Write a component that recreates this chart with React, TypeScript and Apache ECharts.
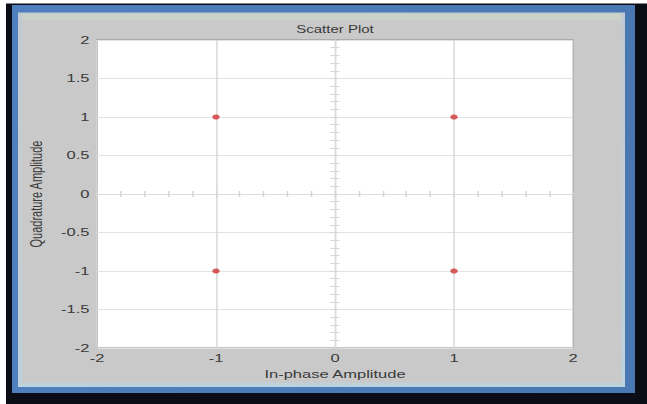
import React, { useEffect, useRef } from "react";
import * as echarts from "echarts";

// QPSK constellation points
const inPhase = [-1, 1, -1, 1];
const quadrature = [1, 1, -1, -1];

const titleText = "Scatter Plot";
const xName = "In-phase Amplitude";
const yName = "Quadrature Amplitude";

const OUT_W = 647;
const OUT_H = 404;
const CHART_W = 431;
const SX = OUT_W / CHART_W; // the figure is drawn narrow and stretched horizontally

const FONT = "Liberation Sans, Arial, sans-serif";
const TEXT = "#3a3a3a";

const u = (px: number) => px / SX;

export default function App() {
  const ref = useRef<HTMLDivElement>(null);

  useEffect(() => {
    if (!ref.current) return;
    const chart = echarts.init(ref.current, undefined, { renderer: "svg" });

    const centerAxis = (inside: boolean, interval: number, showLine: boolean) => ({
      type: "value" as const,
      min: -2,
      max: 2,
      interval,
      axisLine: {
        show: showLine,
        onZero: true,
        onZeroAxisIndex: 0,
        lineStyle: { color: "#dcdcdc", width: 1 },
      },
      axisTick: {
        show: true,
        inside,
        length: 3,
        lineStyle: { color: "#d6d6d6", width: 1 },
      },
      axisLabel: { show: false },
      splitLine: { show: false },
    });

    chart.setOption({
      animation: false,
      backgroundColor: "#ffffff",
      graphic: [
        { type: "rect", z: -10, shape: { x: u(6), y: 3.5, width: CHART_W, height: OUT_H }, style: { fill: "#0b0d16" } },
        {
          type: "rect",
          z: -9,
          shape: { x: u(12), y: 5, width: u(635) - u(12), height: 393 - 5 },
          style: {
            fill: new echarts.graphic.LinearGradient(0, 0, 1, 0, [
              { offset: 0, color: "#4f7fbe" },
              { offset: 1, color: "#4a78b2" },
            ]),
          },
        },
        {
          type: "rect",
          z: -8,
          shape: { x: u(18), y: 12.5, width: u(625) - u(18), height: 387 - 12.5 },
          style: {
            fill: new echarts.graphic.LinearGradient(0, 0, 0, 1, [
              { offset: 0, color: "#bfcad3" },
              { offset: 0.5, color: "#c8cdd0" },
              { offset: 1, color: "#bcd2dc" },
            ]),
          },
        },
        {
          type: "rect",
          z: -7,
          shape: { x: u(22), y: 20, width: u(621) - u(22), height: 383 - 20 },
          style: { fill: "#c9c9c9" },
        },
        {
          type: "rect",
          z: -7,
          shape: { x: u(22), y: 14, width: u(621) - u(22), height: 6 },
          style: { fill: "#ccd2c8" },
        },
        {
          type: "text",
          z: 5,
          x: u(335),
          y: 29,
          style: {
            text: titleText,
            fill: TEXT,
            font: `10px ${FONT}`,
            textAlign: "center",
            textVerticalAlign: "middle",
          },
        },
      ],
      grid: {
        left: u(97),
        top: 40,
        width: u(573) - u(97),
        height: 308,
        show: true,
        backgroundColor: "#ffffff",
        borderColor: "#8c8c8c",
        borderWidth: 1,
      },
      xAxis: [
        {
          type: "value",
          min: -2,
          max: 2,
          interval: 1,
          position: "bottom",
          axisLine: { show: false, onZero: false },
          axisTick: { show: false },
          axisLabel: { color: TEXT, fontSize: 11, fontFamily: FONT, margin: 5 },
          splitLine: { show: true, lineStyle: { color: "#d8d8d8", width: 1 } },
          name: xName,
          nameLocation: "middle",
          nameGap: 19,
          nameTextStyle: { color: TEXT, fontSize: 11, fontFamily: FONT },
        },
        { ...centerAxis(true, 0.2, true), position: "bottom" },
        { ...centerAxis(false, 0.2, false), position: "bottom" },
      ],
      yAxis: [
        {
          type: "value",
          min: -2,
          max: 2,
          interval: 0.5,
          position: "left",
          axisLine: { show: false, onZero: false },
          axisTick: { show: false },
          axisLabel: { color: TEXT, fontSize: 11, fontFamily: FONT, margin: 5 },
          splitLine: { show: true, lineStyle: { color: "#e2e2e2", width: 1 } },
          name: yName,
          nameLocation: "middle",
          nameGap: 34,
          nameTextStyle: { color: TEXT, fontSize: 11, fontFamily: FONT },
        },
        { ...centerAxis(true, 0.1, true), position: "left" },
        { ...centerAxis(false, 0.1, false), position: "left" },
      ],
      series: [
        {
          type: "scatter",
          xAxisIndex: 0,
          yAxisIndex: 0,
          symbol: "circle",
          symbolSize: 5,
          itemStyle: { color: "#d03434" },
          data: inPhase.map((x, i) => [x, quadrature[i]]),
          z: 10,
        },
      ],
    });

    return () => chart.dispose();
  }, []);

  return (
    <div
      style={{
        position: "fixed",
        left: 0,
        top: 0,
        width: OUT_W,
        height: OUT_H,
        overflow: "hidden",
        background: "#ffffff",
      }}
    >
      <div
        ref={ref}
        style={{
          width: CHART_W,
          height: OUT_H,
          transform: `scaleX(${SX})`,
          transformOrigin: "0 0",
        }}
      />
    </div>
  );
}
